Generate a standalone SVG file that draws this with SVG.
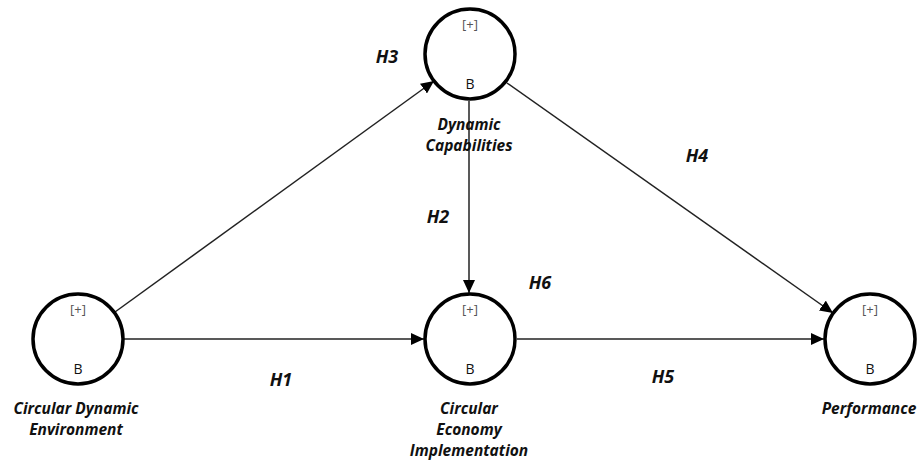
<svg xmlns="http://www.w3.org/2000/svg" width="924" height="460" viewBox="0 0 924 460">
<defs>
<marker id="arr" markerUnits="userSpaceOnUse" markerWidth="14" markerHeight="12" refX="13" refY="6" orient="auto">
<path d="M0,0 L13,6 L0,12 Z" fill="#000"/>
</marker>
<style>
.node{fill:#fff;stroke:#000;stroke-width:3.5}
.edge{stroke:#222;stroke-width:1.5;fill:none;marker-end:url(#arr)}
.plus{font-family:"Open Sans","DejaVu Sans",sans-serif;font-size:13px;fill:#555;text-anchor:middle}
.b{font-family:"Open Sans","DejaVu Sans",sans-serif;font-size:14px;fill:#111;text-anchor:middle}
.lbl{font-family:"Open Sans","DejaVu Sans",sans-serif;font-size:15.5px;font-weight:bold;font-style:italic;fill:#111;text-anchor:middle}
.h{font-family:"Open Sans","DejaVu Sans",sans-serif;font-size:18px;font-weight:bold;font-style:italic;fill:#111;text-anchor:middle}
</style>
</defs>
<rect width="924" height="460" fill="#fff"/>
<g id="connectors">
<line class="edge" x1="115" y1="312" x2="434" y2="81"/>
<line class="edge" x1="124" y1="339" x2="424" y2="339"/>
<line class="edge" x1="469" y1="101" x2="469" y2="293"/>
<line class="edge" x1="507" y1="83" x2="833" y2="313"/>
<line class="edge" x1="517" y1="339" x2="824" y2="339"/>
</g>
<g id="hyp">
<text class="h" x="387" y="63">H3</text>
<text class="h" x="697" y="162">H4</text>
<text class="h" x="438" y="223">H2</text>
<text class="h" x="540" y="289">H6</text>
<text class="h" x="281" y="386">H1</text>
<text class="h" x="663" y="383">H5</text>
</g>
<g id="cde">
<circle class="node" cx="78" cy="339" r="45"/>
<text class="plus" x="78" y="314">[+]</text>
<text class="b" x="78" y="374">B</text>
<text class="lbl" x="76" y="414">Circular Dynamic</text>
<text class="lbl" x="76" y="435">Environment</text>
</g>
<g id="dc">
<circle class="node" cx="470" cy="54" r="45"/>
<text class="plus" x="470" y="29">[+]</text>
<text class="b" x="470" y="89">B</text>
<text class="lbl" x="469" y="130">Dynamic</text>
<text class="lbl" x="469" y="151">Capabilities</text>
</g>
<g id="cei">
<circle class="node" cx="470" cy="339" r="45"/>
<text class="plus" x="470" y="314">[+]</text>
<text class="b" x="470" y="374">B</text>
<text class="lbl" x="469" y="414">Circular</text>
<text class="lbl" x="469" y="435">Economy</text>
<text class="lbl" x="469" y="456">Implementation</text>
</g>
<g id="perf">
<circle class="node" cx="870" cy="339" r="45"/>
<text class="plus" x="870" y="314">[+]</text>
<text class="b" x="870" y="374">B</text>
<text class="lbl" x="869" y="414">Performance</text>
</g>
</svg>
